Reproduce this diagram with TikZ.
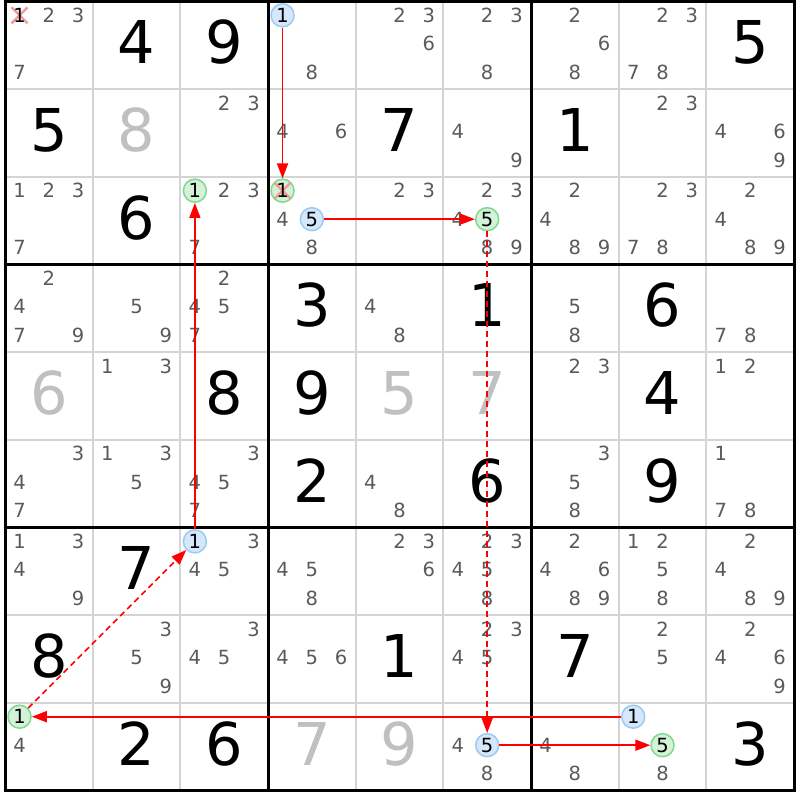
\documentclass[tikz,border=0pt]{standalone}
\usepackage{fontspec}
\setmainfont{DejaVu Sans}
\usetikzlibrary{arrows.meta}
\definecolor{candgray}{HTML}{5A5A5A}
\definecolor{givengray}{HTML}{C0C0C0}
\definecolor{thingrid}{HTML}{D4D4D4}
\definecolor{bluefill}{HTML}{D5E8FB}
\definecolor{blueline}{HTML}{9CCBF2}
\definecolor{greenfill}{HTML}{D4F2D8}
\definecolor{greenline}{HTML}{7FD98E}
\definecolor{xpink}{HTML}{F49A9A}
\definecolor{chainred}{HTML}{FF0000}
\begin{document}
\begin{tikzpicture}[x=1pt,y=-1pt,
  given/.style={font=\fontsize{59}{62}\selectfont, inner sep=0pt, text=black},
  givengr/.style={given, text=givengray},
  cand/.style={font=\fontsize{19.5}{21}\selectfont, inner sep=0pt, text=candgray},
  hl/.style={font=\fontsize{19.5}{21}\selectfont, inner sep=0pt, text=black},
  bluec/.style={circle, minimum size=23pt, inner sep=0pt, fill=bluefill, draw=blueline, line width=1.5pt},
  greenc/.style={circle, minimum size=23pt, inner sep=0pt, fill=greenfill, draw=greenline, line width=1.5pt},
  xmark/.style={draw=xpink, line width=2.4pt},
  thingridline/.style={draw=thingrid, line width=2pt},
  thickgridline/.style={draw=black, line width=3pt},
  arr/.style={draw=chainred, line width=1.6pt, -{Triangle[length=15pt,width=11pt,fill=chainred]}},
  darr/.style={arr, dash pattern=on 6pt off 4pt}]
\useasboundingbox (0,0) rectangle (800,800);
\fill[white] (0,0) rectangle (800,800);
\def\X{5}\def\Y{1.5}\def\S{87.67}
% grid
\foreach \i in {1,2,4,5,7,8} {
  \draw[thingridline] ({\X+\i*\S},\Y) -- ({\X+\i*\S},{\Y+9*\S});
  \draw[thingridline] (\X,{\Y+\i*\S}) -- ({\X+9*\S},{\Y+\i*\S});
}
\foreach \i in {0,3,6,9} {
  \draw[thickgridline] ({\X+\i*\S},{\Y-1.5}) -- ({\X+\i*\S},{\Y+9*\S+1.5});
  \draw[thickgridline] ({\X-1.5},{\Y+\i*\S}) -- ({\X+9*\S+1.5},{\Y+\i*\S});
}
% givens
\foreach \r/\c/\d in {1/2/4,1/3/9,1/9/5,2/1/5,2/5/7,2/7/1,3/2/6,4/4/3,4/6/1,4/8/6,
  5/3/8,5/4/9,5/8/4,6/4/2,6/6/6,6/8/9,7/2/7,8/1/8,8/5/1,8/7/7,9/2/2,9/3/6,9/9/3} {
  \node[given] (g\r\c) at ({\X+(\c-0.5)*\S},{\Y+(\r-0.5)*\S-3}) {\d};
}
\foreach \r/\c/\d in {2/2/8,5/1/6,5/5/5,5/6/7,9/4/7,9/5/9} {
  \node[givengr] (g\r\c) at ({\X+(\c-0.5)*\S},{\Y+(\r-0.5)*\S-3}) {\d};
}
% candidates
\foreach \r/\c/\L in {1/1/{2,3,7},1/4/{8},1/5/{2,3,6},1/6/{2,3,8},1/7/{2,6,8},1/8/{2,3,7,8},
  2/3/{2,3},2/4/{4,6},2/6/{4,9},2/8/{2,3},2/9/{4,6,9},
  3/1/{1,2,3,7},3/3/{2,3,7},3/4/{4,8},3/5/{2,3},3/6/{2,3,4,8,9},3/7/{2,4,8,9},3/8/{2,3,7,8},3/9/{2,4,8,9},
  4/1/{2,4,7,9},4/2/{5,9},4/3/{2,4,5,7},4/5/{4,8},4/7/{5,8},4/9/{7,8},
  5/2/{1,3},5/7/{2,3},5/9/{1,2},
  6/1/{3,4,7},6/2/{1,3,5},6/3/{3,4,5,7},6/5/{4,8},6/7/{3,5,8},6/9/{1,7,8},
  7/1/{1,3,4,9},7/3/{3,4,5},7/4/{4,5,8},7/5/{2,3,6},7/6/{2,3,4,5,8},7/7/{2,4,6,8,9},7/8/{1,2,5,8},7/9/{2,4,8,9},
  8/2/{3,5,9},8/3/{3,4,5},8/4/{4,5,6},8/6/{2,3,4,5},8/8/{2,5},8/9/{2,4,6,9},
  9/1/{4},9/6/{4,8},9/7/{4,8},9/8/{8}} {
  \foreach \n in \L {
    \pgfmathsetmacro\cx{\X+(\c-0.5)*\S+(mod(\n-1,3)-1)*29.3}
    \pgfmathsetmacro\cy{\Y+(\r-0.5)*\S-1.5+(floor((\n-1)/3)-1)*28.5}
    \node[cand] (c\r\c\n) at (\cx,\cy) {\n};
  }
}
% highlighted candidates: circles
\foreach \nm/\r/\c/\n/\sty in {b1/1/4/1/bluec, g1/3/4/1/greenc, b2/3/4/5/bluec, g2/3/6/5/greenc,
  g3/3/3/1/greenc, b3/7/3/1/bluec, g4/9/1/1/greenc, b4/9/6/5/bluec, b5/9/8/1/bluec, g5/9/8/5/greenc} {
  \pgfmathsetmacro\cx{\X+(\c-0.5)*\S+(mod(\n-1,3)-1)*29.3}
  \pgfmathsetmacro\cy{\Y+(\r-0.5)*\S-1.5+(floor((\n-1)/3)-1)*28.5}
  \node[\sty] (\nm) at (\cx,\cy) {};
}
\coordinate (x1) at ({\X+0.5*\S-29.3},{\Y+0.5*\S-1.5-28.5});
% eliminations
\draw[xmark] ([shift={(-8,-8)}]x1) -- ([shift={(8,8)}]x1);
\draw[xmark] ([shift={(-8,8)}]x1) -- ([shift={(8,-8)}]x1);
\draw[xmark] ([shift={(-8,-8)}]g1.center) -- ([shift={(8,8)}]g1.center);
\draw[xmark] ([shift={(-8,8)}]g1.center) -- ([shift={(8,-8)}]g1.center);
% highlighted digits
\node[hl] (d1) at (x1) {1};
\foreach \nm/\n in {b1/1,g1/1,b2/5,g2/5,g3/1,b3/1,g4/1,b4/5,b5/1,g5/5} {
  \node[hl] (t\nm) at (\nm.center) {\n};
}
% chain
\draw[arr] (b1) -- (g1);
\draw[arr] (b2) -- (g2);
\draw[darr] (g2) -- (b4);
\draw[arr] (b4) -- (g5);
\draw[arr] (b5) -- (g4);
\draw[darr] (g4) -- (b3);
\draw[arr] (b3) -- (g3);
\end{tikzpicture}
\end{document}
